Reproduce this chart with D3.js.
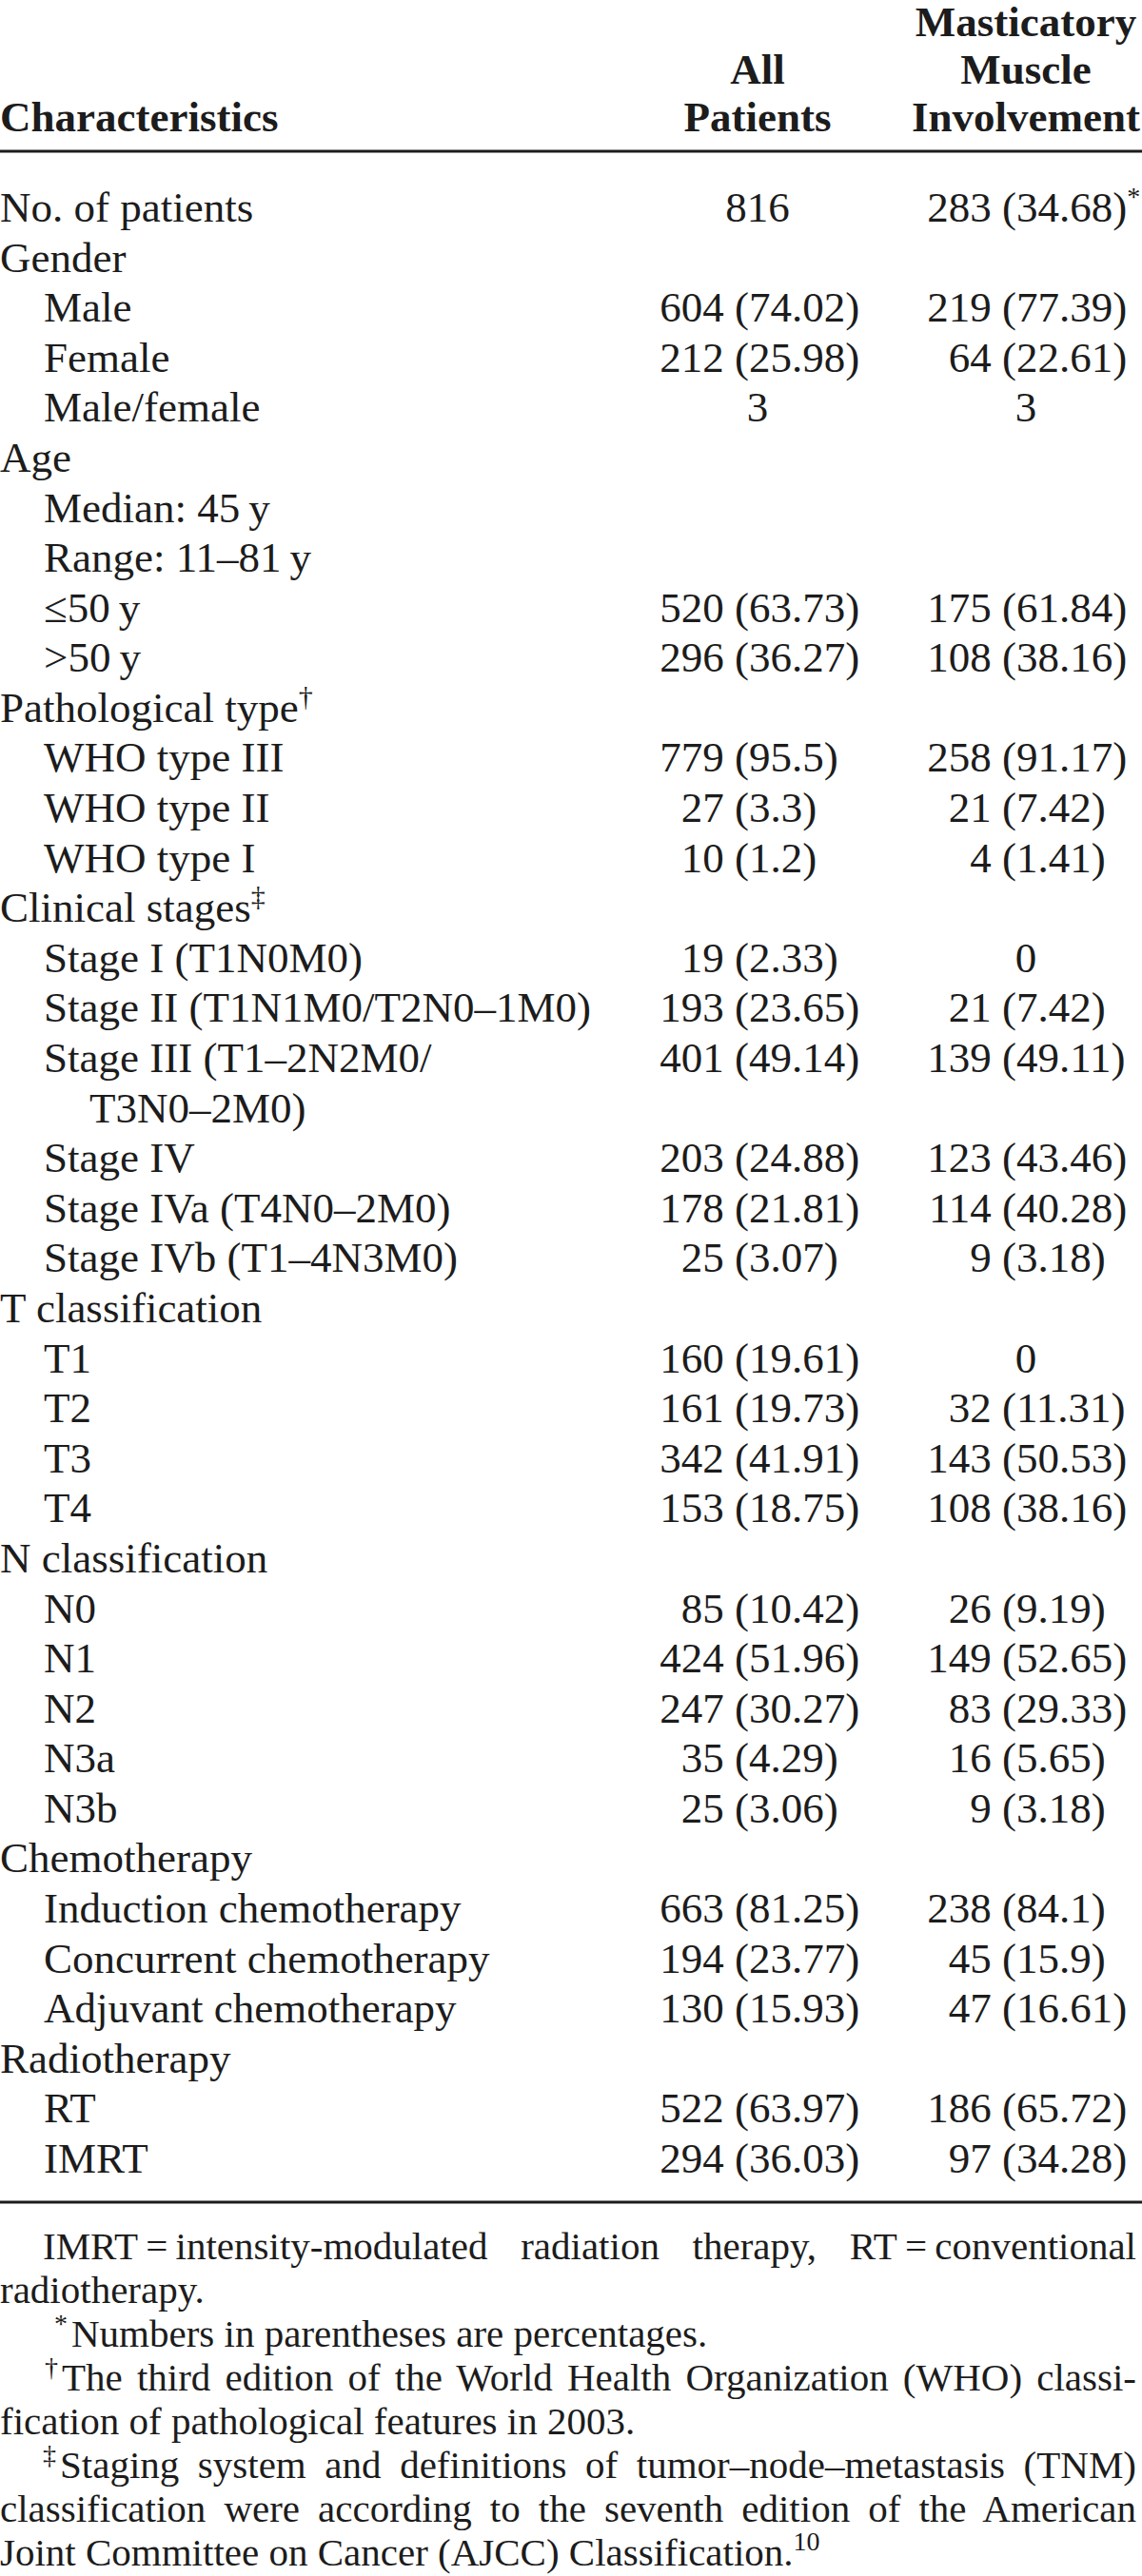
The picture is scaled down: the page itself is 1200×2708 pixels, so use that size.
<!DOCTYPE html>
<html>
<head>
<meta charset="utf-8">
<script src="https://cdn.jsdelivr.net/npm/d3@7"></script>
<style>
  body { margin: 0; background: #fff; }
  text { font-family: "Liberation Serif", "Times New Roman", serif; fill: #1c1c1c; }
</style>
</head>
<body>
<svg id="table" width="1200" height="2708"></svg>
<script>
// table content
const rowLabels = [
    "No. of patients", "Gender", "Male", "Female", "Male/female",
    "Age", "Median: 45\u2009y", "Range: 11\u201381\u2009y", "\u226450\u2009y", ">50\u2009y",
    "Pathological type", "WHO type III", "WHO type II", "WHO type I",
    "Clinical stages", "Stage I (T1N0M0)", "Stage II (T1N1M0/T2N0\u20131M0)",
    "Stage III (T1\u20132N2M0/", "T3N0\u20132M0)", "Stage IV",
    "Stage IVa (T4N0\u20132M0)", "Stage IVb (T1\u20134N3M0)",
    "T classification", "T1", "T2", "T3", "T4",
    "N classification", "N0", "N1", "N2", "N3a", "N3b",
    "Chemotherapy", "Induction chemotherapy", "Concurrent chemotherapy", "Adjuvant chemotherapy",
    "Radiotherapy", "RT", "IMRT"
];
// 0 = group heading, 1 = item, 2 = wrapped line
const rowLevels = [
    0, 0, 1, 1, 1,
    0, 1, 1, 1, 1,
    0, 1, 1, 1,
    0, 1, 1,
    1, 2, 1,
    1, 1,
    0, 1, 1, 1, 1,
    0, 1, 1, 1, 1, 1,
    0, 1, 1, 1,
    0, 1, 1
];
const labelMarks = {10: "\u2020", 14: "\u2021"};

const allPatients = [
    "816", "", "604 (74.02)", "212 (25.98)", "3",
    "", "", "", "520 (63.73)", "296 (36.27)",
    "", "779 (95.5)", "27 (3.3)", "10 (1.2)",
    "", "19 (2.33)", "193 (23.65)",
    "401 (49.14)", "", "203 (24.88)",
    "178 (21.81)", "25 (3.07)",
    "", "160 (19.61)", "161 (19.73)", "342 (41.91)", "153 (18.75)",
    "", "85 (10.42)", "424 (51.96)", "247 (30.27)", "35 (4.29)", "25 (3.06)",
    "", "663 (81.25)", "194 (23.77)", "130 (15.93)",
    "", "522 (63.97)", "294 (36.03)"
];
const muscleInvolvement = [
    "283 (34.68)", "", "219 (77.39)", "64 (22.61)", "3",
    "", "", "", "175 (61.84)", "108 (38.16)",
    "", "258 (91.17)", "21 (7.42)", "4 (1.41)",
    "", "0", "21 (7.42)",
    "139 (49.11)", "", "123 (43.46)",
    "114 (40.28)", "9 (3.18)",
    "", "0", "32 (11.31)", "143 (50.53)", "108 (38.16)",
    "", "26 (9.19)", "149 (52.65)", "83 (29.33)", "16 (5.65)", "9 (3.18)",
    "", "238 (84.1)", "45 (15.9)", "47 (16.61)",
    "", "186 (65.72)", "97 (34.28)"
];
const valueMarks = {0: "*"};

const columnKeys = ["all", "muscle"];
const headerLines = {
    label: ["", "", "Characteristics"],
    all: ["", "All", "Patients"],
    muscle: ["Masticatory", "Muscle", "Involvement"]
};

const footnotes = [
    {mark: "", text: "IMRT\u2009=\u2009intensity-modulated radiation therapy, RT\u2009=\u2009conventional", justify: true, indent: 45},
    {mark: "", text: "radiotherapy.", justify: false, indent: 0},
    {mark: "*", text: "Numbers in parentheses are percentages.", justify: false, indent: 57},
    {mark: "\u2020", text: "The third edition of the World Health Organization (WHO) classi-", justify: true, indent: 47},
    {mark: "", text: "fication of pathological features in 2003.", justify: false, indent: 0},
    {mark: "\u2021", text: "Staging system and definitions of tumor\u2013node\u2013metastasis (TNM)", justify: true, indent: 45},
    {mark: "", text: "classification were according to the seventh edition of the American", justify: true, indent: 0},
    {mark: "", text: "Joint Committee on Cancer (AJCC) Classification.", sup: "10", justify: false, indent: 0}
];

const width = 1200;
const fontSize = 45;
const noteSize = 41;
const rightEdge = 1194;

const svg = d3.select("#table");

const y = d3.scaleLinear()
    .domain([0, rowLabels.length - 1])
    .range([233, 2284]);

const colCenter = d3.scaleOrdinal()
    .domain(columnKeys)
    .range([796, 1078]);

// where the "(" of each column lines up
const parenAt = d3.scaleOrdinal()
    .domain(columnKeys)
    .range([772, 1053]);

const indent = d3.scaleOrdinal()
    .domain([0, 1, 2])
    .range([0, 46, 94]);

const headerY = d3.scaleLinear().domain([0, 2]).range([38, 138]);

// header
const header = svg.append("g").attr("font-weight", "bold").attr("font-size", fontSize);
headerLines.label.forEach((t, i) => {
    header.append("text").attr("x", 0).attr("y", headerY(i)).text(t);
});
columnKeys.forEach(k => {
    headerLines[k].forEach((t, i) => {
        header.append("text")
            .attr("x", colCenter(k))
            .attr("y", headerY(i))
            .attr("text-anchor", "middle")
            .text(t);
    });
});

// rules
svg.append("line")
    .attr("x1", 0).attr("x2", width)
    .attr("y1", 159).attr("y2", 159)
    .attr("stroke", "#1c1c1c").attr("stroke-width", 3);
svg.append("line")
    .attr("x1", 0).attr("x2", width)
    .attr("y1", 2315).attr("y2", 2315)
    .attr("stroke", "#1c1c1c").attr("stroke-width", 3);

// body rows
const body = svg.append("g").attr("font-size", fontSize);

const labels = body.selectAll("text.label")
    .data(rowLabels)
    .join("text")
    .attr("class", "label")
    .attr("x", (d, i) => indent(rowLevels[i]))
    .attr("y", (d, i) => y(i))
    .text(d => d);

labels.filter((d, i) => labelMarks[i])
    .append("tspan")
    .attr("font-size", 30)
    .attr("dy", -17)
    .text(d => labelMarks[rowLabels.indexOf(d)]);

const spaceGap = fontSize * 0.25;

function drawColumn(values, key) {
    const cx = colCenter(key);
    const px = parenAt(key);
    const g = body.append("g");
    values.forEach((v, i) => {
        if (!v) return;
        const p = v.indexOf("(");
        if (p < 0) {
            g.append("text")
                .attr("x", cx)
                .attr("y", y(i))
                .attr("text-anchor", "middle")
                .text(v);
            return;
        }
        g.append("text")
            .attr("x", px - spaceGap)
            .attr("y", y(i))
            .attr("text-anchor", "end")
            .text(v.slice(0, p).trim());
        const pct = g.append("text")
            .attr("x", px)
            .attr("y", y(i))
            .text(v.slice(p));
        if (key === "muscle" && valueMarks[i]) {
            pct.append("tspan")
                .attr("font-size", 28)
                .attr("dy", -17)
                .text(valueMarks[i]);
        }
    });
}
drawColumn(allPatients, "all");
drawColumn(muscleInvolvement, "muscle");

// footnotes
const noteY = d3.scaleLinear().domain([0, footnotes.length - 1]).range([2375, 2697]);
const notes = svg.append("g").attr("font-size", noteSize);

footnotes.forEach((f, i) => {
    let x = f.indent;
    if (f.mark) {
        const m = notes.append("text")
            .attr("x", x)
            .attr("y", noteY(i) - 15)
            .attr("font-size", 28)
            .text(f.mark);
        x += m.node().getComputedTextLength() + 4;
    }
    const t = notes.append("text")
        .attr("x", x)
        .attr("y", noteY(i))
        .text(f.text);
    if (f.sup) {
        t.append("tspan")
            .attr("font-size", 28)
            .attr("dy", -16)
            .text(f.sup);
    }
    if (f.justify) {
        const natural = t.node().getComputedTextLength();
        const spaces = (f.text.match(/ /g) || []).length;
        const extra = (rightEdge - x - natural) / spaces;
        t.style("word-spacing", extra + "px");
    }
});
</script>
</body>
</html>
